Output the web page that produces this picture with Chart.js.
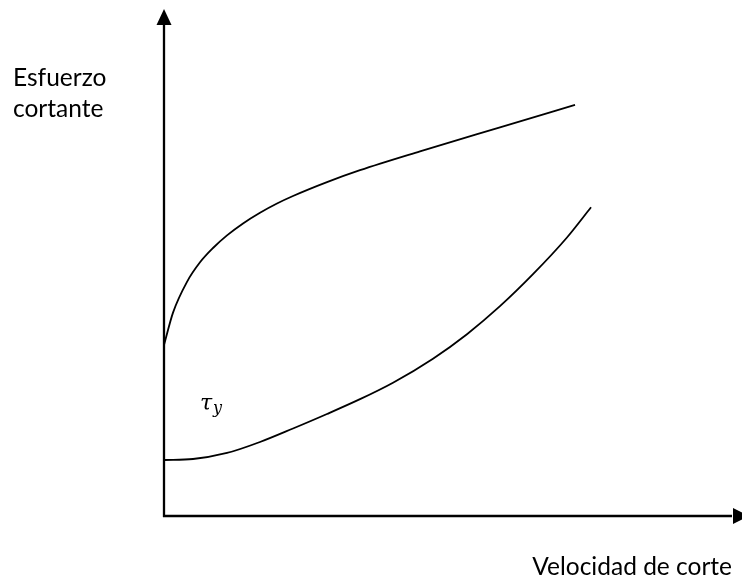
<!DOCTYPE html>
<html>
<head>
<meta charset="utf-8">
<script src="https://cdn.jsdelivr.net/npm/chart.js@4/dist/chart.umd.min.js"></script>
<style>
  body { margin: 0; background: #ffffff; }
  #grafico { display: block; }
</style>
</head>
<body>
<canvas id="grafico" width="742" height="579"></canvas>
<script>
// curva superior (arranca en el eje y se aplana)
const superiorX = [0, 1.56, 3.98, 6.23, 8.48, 10.9, 13.67, 16.61, 19.55, 22.32, 28.2, 33.91, 44.29, 58.13, 71.11];
const superiorY = [33.73, 40.12, 46.19, 50.04, 52.86, 55.35, 57.71, 59.82, 61.64, 63.12, 65.86, 68.21, 71.93, 76.67, 81.1];

// curva inferior (parte de tau_y y se empina)
const inferiorX = [0, 5.02, 10.9, 16.61, 22.32, 28.2, 33.91, 39.62, 46.54, 52.42, 58.13, 63.84, 69.72, 73.88];
const inferiorY = [11.05, 11.24, 12.43, 14.6, 17.26, 20.12, 23.04, 26.29, 31.03, 35.86, 41.38, 47.69, 54.93, 60.89];

const tituloY = ["Esfuerzo", "cortante"];
const tituloX = "Velocidad de corte";

function puntos(xs, ys) {
  return xs.map((x, i) => ({ x: x, y: ys[i] }));
}

// ejes con flechas y textos
const ejesPlugin = {
  id: "ejes",
  afterDraw(chart) {
    const ctx = chart.ctx;
    const area = chart.chartArea;
    ctx.save();
    ctx.fillStyle = "#000";
    ctx.strokeStyle = "#000";
    ctx.lineWidth = 2.3;

    // eje y
    ctx.beginPath();
    ctx.moveTo(area.left, area.bottom + 1);
    ctx.lineTo(area.left, area.top + 12);
    ctx.stroke();
    ctx.beginPath();
    ctx.moveTo(area.left, area.top);
    ctx.lineTo(area.left - 7.5, area.top + 16);
    ctx.lineTo(area.left + 7.5, area.top + 16);
    ctx.closePath();
    ctx.fill();

    // eje x
    ctx.beginPath();
    ctx.moveTo(area.left - 1, area.bottom);
    ctx.lineTo(area.right - 10, area.bottom);
    ctx.stroke();
    ctx.beginPath();
    ctx.moveTo(area.right + 7, area.bottom);
    ctx.lineTo(area.right - 9, area.bottom - 8);
    ctx.lineTo(area.right - 9, area.bottom + 8);
    ctx.closePath();
    ctx.fill();

    ctx.font = "24.5px Lato";
    ctx.textAlign = "left";
    ctx.textBaseline = "alphabetic";
    ctx.fillStyle = "#000";
    ctx.fillText(tituloY[0], 13, 86);
    ctx.fillText(tituloY[1], 13, 117);
    ctx.textAlign = "right";
    ctx.fillText(tituloX, 732, 575);

    // tau_y
    ctx.textAlign = "left";
    ctx.font = "italic 22px 'DejaVu Serif'";
    ctx.fillText("\u03C4", 200, 410);
    ctx.font = "italic 16px 'DejaVu Serif'";
    ctx.fillText("y", 213, 413);
    ctx.restore();
  }
};

const ctxGrafico = document.getElementById("grafico").getContext("2d");

new Chart(ctxGrafico, {
  type: "scatter",
  data: {
    datasets: [
      {
        label: "superior",
        data: puntos(superiorX, superiorY),
        showLine: true,
        borderColor: "#000",
        borderWidth: 1.8,
        pointRadius: 0,
        cubicInterpolationMode: "monotone",
        fill: false
      },
      {
        label: "inferior",
        data: puntos(inferiorX, inferiorY),
        showLine: true,
        borderColor: "#000",
        borderWidth: 1.8,
        pointRadius: 0,
        cubicInterpolationMode: "monotone",
        fill: false
      }
    ]
  },
  options: {
    responsive: false,
    animation: false,
    layout: {
      padding: { left: 164, top: 9, right: 0, bottom: 63 }
    },
    plugins: {
      legend: { display: false },
      tooltip: { enabled: false }
    },
    scales: {
      x: {
        type: "linear",
        min: 0,
        max: 100,
        display: false
      },
      y: {
        type: "linear",
        min: 0,
        max: 100,
        display: false
      }
    }
  },
  plugins: [ejesPlugin]
});
</script>
</body>
</html>
